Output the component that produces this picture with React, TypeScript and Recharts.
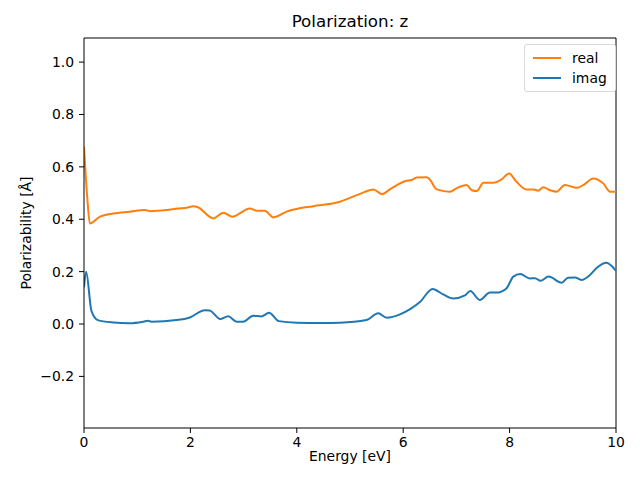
import { Line, LineChart, ReferenceLine, XAxis, YAxis } from "recharts";

const realEnergy = [
  0, 0.06, 0.11, 0.3, 0.55, 0.86, 1.15, 1.24, 1.55, 1.77, 1.93, 2.06, 2.15, 2.43, 2.62, 2.78,
  3.12, 3.25, 3.4, 3.56, 3.81, 4.31, 4.69, 4.81, 5.19, 5.44, 5.6, 5.75, 6.06, 6.16, 6.25, 6.44,
  6.5, 6.63, 6.88, 7.0, 7.19, 7.29, 7.38, 7.51, 7.69, 7.85, 7.99, 8.13, 8.32, 8.45, 8.54, 8.63,
  8.76, 8.88, 9.04, 9.26, 9.39, 9.57, 9.76, 9.89, 10.0,
];
const realValues = [
  0.677, 0.486, 0.384, 0.41, 0.422, 0.429, 0.435, 0.431, 0.435, 0.441, 0.444, 0.45, 0.445, 0.403,
  0.425, 0.41, 0.441, 0.432, 0.432, 0.407, 0.429, 0.45, 0.461, 0.467, 0.497, 0.514, 0.496, 0.514,
  0.547, 0.55, 0.559, 0.56, 0.552, 0.514, 0.505, 0.518, 0.531, 0.511, 0.508, 0.539, 0.539, 0.552,
  0.575, 0.543, 0.514, 0.514, 0.509, 0.522, 0.511, 0.505, 0.531, 0.52, 0.531, 0.556, 0.537, 0.505,
  0.505,
];

const imagEnergy = [
  0, 0.04, 0.14, 0.26, 0.55, 0.86, 1.12, 1.2, 1.27, 1.74, 1.99, 2.27, 2.36, 2.56, 2.71, 2.87,
  2.99, 3.18, 3.33, 3.48, 3.66, 4.0, 4.44, 4.81, 5.31, 5.53, 5.69, 5.94, 6.13, 6.32, 6.55, 6.75,
  6.94, 7.16, 7.26, 7.44, 7.63, 7.75, 7.94, 8.07, 8.2, 8.38, 8.48, 8.58, 8.73, 8.98, 9.1, 9.23,
  9.35, 9.51, 9.64, 9.82, 10.0,
];
const imagValues = [
  0.14, 0.2, 0.05, 0.015, 0.006, 0.003, 0.009, 0.012, 0.009, 0.015, 0.025, 0.053, 0.052, 0.019,
  0.03, 0.009, 0.009, 0.032, 0.029, 0.043, 0.011, 0.005, 0.004, 0.005, 0.015, 0.041, 0.024, 0.037,
  0.057, 0.085, 0.134, 0.113, 0.097, 0.109, 0.126, 0.092, 0.12, 0.12, 0.136, 0.181, 0.191, 0.174,
  0.175, 0.165, 0.181, 0.158, 0.177, 0.178, 0.168, 0.187, 0.215, 0.234, 0.203,
];

const xTicks = [0, 2, 4, 6, 8, 10];
const yTicks = [-0.2, 0, 0.2, 0.4, 0.6, 0.8, 1.0];
const yDomain = [-0.397, 1.092];
const xDomain = [0, 10];

const realData = realEnergy.map((e, i) => ({ energy: e, value: realValues[i] }));
const imagData = imagEnergy.map((e, i) => ({ energy: e, value: imagValues[i] }));

const font = "'DejaVu Sans', sans-serif";
const tickStyle = { fill: "#000", fontSize: 13.9, fontFamily: font };

const fmt = (v: number) => (v < 0 ? "\u2212" + Math.abs(v).toFixed(1) : v.toFixed(1));

const legendItems = [
  { name: "real", color: "#ff7f0e" },
  { name: "imag", color: "#1f77b4" },
];

function LegendBox() {
  return (
    <div
      style={{
        position: "absolute",
        top: 44,
        left: 524,
        border: "1px solid #d9d9d9",
        borderRadius: 3,
        background: "rgba(255,255,255,0.8)",
        padding: "3px 8px 3px 8px",
        fontFamily: font,
        fontSize: 13.9,
        lineHeight: "20px",
      }}
    >
      {legendItems.map((it) => (
        <div key={it.name} style={{ display: "flex", alignItems: "center" }}>
          <span style={{ display: "inline-block", width: 28, height: 2, background: it.color, marginRight: 11 }} />
          {it.name}
        </div>
      ))}
    </div>
  );
}

export default function App() {
  return (
    <div style={{ position: "relative", width: 640, height: 480, background: "#fff" }}>
      <style>{"body{margin:0}"}</style>
      <LineChart width={640} height={480} margin={{ top: 38, right: 24, bottom: 0, left: 24 }}>
        <XAxis
          type="number"
          dataKey="energy"
          domain={xDomain}
          ticks={xTicks}
          allowDataOverflow
          height={52}
          tickSize={5}
          tickMargin={4}
          tick={tickStyle}
          axisLine={{ stroke: "#000" }}
          tickLine={{ stroke: "#000" }}
        />
        <YAxis
          type="number"
          domain={yDomain}
          ticks={yTicks}
          allowDataOverflow
          width={60}
          tickSize={5}
          tickMargin={5}
          tick={tickStyle}
          tickFormatter={fmt}
          axisLine={{ stroke: "#000" }}
          tickLine={{ stroke: "#000" }}
        />
        <ReferenceLine y={yDomain[1]} stroke="#000" ifOverflow="extendDomain" />
        <ReferenceLine x={xDomain[1]} stroke="#000" ifOverflow="extendDomain" />
        <Line
          data={realData}
          dataKey="value"
          name="real"
          type="monotone"
          stroke="#ff7f0e"
          strokeWidth={2}
          dot={false}
          isAnimationActive={false}
        />
        <Line
          data={imagData}
          dataKey="value"
          name="imag"
          type="monotone"
          stroke="#1f77b4"
          strokeWidth={2}
          dot={false}
          isAnimationActive={false}
        />
      </LineChart>
      <LegendBox />
      <div
        style={{
          position: "absolute",
          top: 11,
          left: 84,
          width: 532,
          textAlign: "center",
          fontFamily: font,
          fontSize: 16.7,
        }}
      >
        Polarization: z
      </div>
      <div
        style={{
          position: "absolute",
          top: 448,
          left: 84,
          width: 532,
          textAlign: "center",
          fontFamily: font,
          fontSize: 13.9,
        }}
      >
        Energy [eV]
      </div>
      <div
        style={{
          position: "absolute",
          top: 233,
          left: 26,
          transform: "translate(-50%, -50%) rotate(-90deg)",
          whiteSpace: "nowrap",
          fontFamily: font,
          fontSize: 13.9,
        }}
      >
        Polarizability [Å]
      </div>
    </div>
  );
}
